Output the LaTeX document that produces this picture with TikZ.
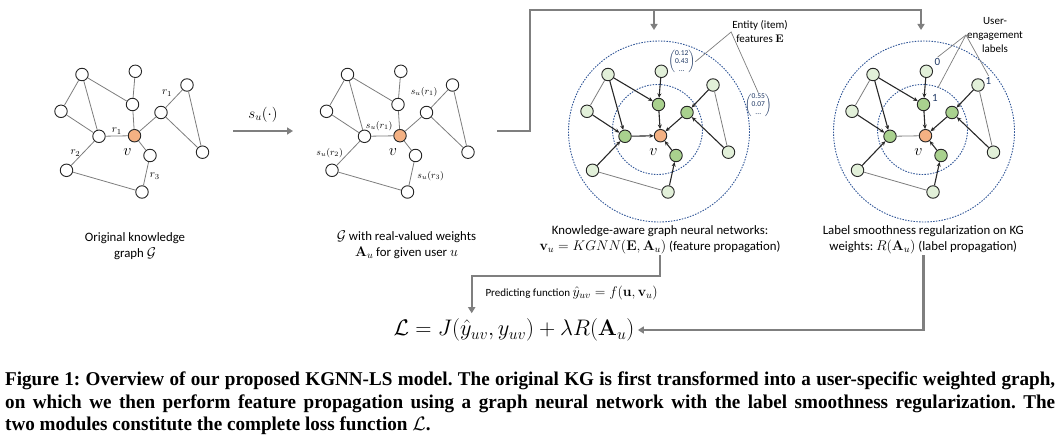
\RequirePackage{fix-cm}
\documentclass[tikz,border=0pt]{standalone}
\usepackage{amsmath}
\usepackage[no-math]{fontspec}
\setmainfont{Carlito}
\newfontfamily\capfont[FakeStretch=0.98]{Liberation Serif}
\usetikzlibrary{arrows.meta,positioning}
\definecolor{flowgray}{RGB}{127,127,127}
\definecolor{edgegray}{RGB}{125,125,125}
\definecolor{msgink}{RGB}{40,40,40}
\definecolor{rootfill}{RGB}{244,177,131}
\definecolor{farfill}{RGB}{226,240,217}
\definecolor{nearfill}{RGB}{169,209,142}
\definecolor{ringblue}{RGB}{47,85,151}
\definecolor{labelnavy}{RGB}{31,56,100}
\tikzset{
  kgnode/.style={circle, draw=black!85, line width=0.9pt, minimum size=12.5pt, inner sep=0pt},
  kgfar/.style={kgnode, fill=white},
  kgnear/.style={kgnode, fill=white},
  kgroot/.style={kgnode, fill=rootfill},
  gnnfar/.style={kgnode, fill=farfill},
  gnnnear/.style={kgnode, fill=nearfill},
  gnnroot/.style={kgnode, fill=rootfill},
  rel/.style={edgegray, line width=0.8pt},
  msg/.style={msgink, line width=1.1pt, -{Stealth[length=4.5pt,width=4pt]}},
  ring/.style={ringblue, line width=0.9pt, dash pattern=on 1.5pt off 1.3pt},
  flowline/.style={flowgray, line width=2.4pt, -{Triangle[length=6pt,width=7pt]}},
  callout/.style={edgegray, line width=0.7pt},
  rlbl/.style={font=\fontsize{11}{11}\selectfont, text=black, inner sep=1pt},
  slbl/.style={font=\fontsize{9.5}{9.5}\selectfont, text=black, inner sep=1pt},
  vlbl/.style={font=\fontsize{16}{16}\selectfont, inner sep=0pt},
  ulbl/.style={font=\fontsize{11}{11}\selectfont, text=labelnavy, inner sep=1pt},
  stagecap/.style={align=center, font=\fontsize{12.8}{16}\selectfont, inner sep=1pt},
  note/.style={align=center, font=\fontsize{11}{14}\selectfont, inner sep=1pt},
  vec/.style={font=\fontsize{7.5}{8}\selectfont, text=labelnavy, inner sep=0pt},
  figcap/.style={anchor=west, inner sep=0pt, font=\capfont\bfseries\fontsize{19.5}{22}\selectfont},
}
\newcommand{\featvec}[2]{$\left(\begin{tabular}{@{}c@{}}#1\\#2\\...\end{tabular}\right)$}
\newcommand{\capmath}[1]{{\fontsize{14}{16}\selectfont$#1$}}

\begin{document}
\frenchspacing
\begin{tikzpicture}[x=1pt,y=-1pt]
  \useasboundingbox (0,0) rectangle (1064,438);
  \foreach \dx in {526,791}{
    \draw[ring] (\dx+131.5,129.5) circle (45);
    \draw[ring] (\dx+133,131.5) circle (90.5);}
  \foreach \n/\x/\y/\k in {a/82/74.5/far, b/135.3/71.3/far, c/187/85/far, d/132.5/104.5/near,
      e/61/111.3/far, f/161/112.5/near, g/99/136.3/near, v/134.5/135.7/root,
      h/202.5/152.2/far, i/150/155.5/near, j/66.5/170.3/far, k/142/192/far}{
    \node[kg\k] (A\n) at (\x,\y) {};
    \node[kg\k] (B\n) at (\x+265.5,\y) {};
    \node[gnn\k] (C\n) at (\x+526,\y) {};
    \node[gnn\k] (D\n) at (\x+791,\y) {};}
  \foreach \p in {A,B}
    \foreach \s/\t in {a/e,a/g,a/d,d/b,d/v,e/g,v/f,f/h,c/h,v/i,j/k}
      \draw[rel] (\p\s) -- (\p\t);
  \draw[rel] (Ag) -- node[rlbl, above] {$r_1$} (Av);
  \draw[rel] (Af) -- node[rlbl, above left=1pt] {$r_1$} (Ac);
  \draw[rel] (Ag) -- node[rlbl, left=1pt] {$r_2$} (Aj);
  \draw[rel] (Ai) -- node[rlbl, right=3pt, pos=0.6] {$r_3$} (Ak);
  \draw[rel] (Bg) -- node[slbl, above=4pt, xshift=-3pt] {$s_u(r_1)$} (Bv);
  \draw[rel] (Bf) -- node[slbl, above left=1pt] {$s_u(r_1)$} (Bc);
  \draw[rel] (Bg) -- node[slbl, left=4pt] {$s_u(r_2)$} (Bj);
  \draw[rel] (Bi) -- node[slbl, right=5pt, pos=0.6] {$s_u(r_3)$} (Bk);
  \foreach \p in {C,D}{
    \foreach \s/\t in {a/e,j/k,c/h}
      \draw[rel] (\p\s) -- (\p\t);
    \foreach \s/\t in {a/g,a/d,b/d,d/v,e/g,f/v,c/f,h/f,i/v,k/i,j/g}
      \draw[msg] (\p\s) -- (\p\t);}
  \draw[msg] (Cg) -- (Cv);
  \draw[rel] (Dg) -- (Dv);
  \foreach \p in {A,B,C,D}
    \node[vlbl] (\p vl) at ([shift={(-7,16)}]\p v) {$v$};

  \node[vec] (featA) at (681.7,61.7) {\featvec{0.12}{0.43}};
  \node[vec] (featB) at (758.3,105) {\featvec{0.55}{0.07}};
  \node[note] (entity) at (760,32) {Entity (item)\\features $\mathbf{E}$};
  \draw[callout] (featA.east) -- (entity.west) -- (featB.north);
  \node[ulbl] (lab0) at (937.5,62) {0};
  \node[ulbl] (lab1) at (935,98) {1};
  \node[ulbl] (lab2) at (988.5,80.5) {1};
  \node[note] (engage) at (995,35) {User-\\engagement\\labels};
  \draw[callout] (lab0.north) -- (engage.west) -- (lab2.north);
  \draw[callout, shorten <=6pt] (lab1.north) -- (engage.west);

  \node[stagecap] (Acap) at (135,246) {Original knowledge\\graph \capmath{\mathcal{G}}};
  \node[stagecap] (Bcap) at (406.5,245) {\capmath{\mathcal{G}} with real-valued weights\\\capmath{\mathbf{A}_u} for given user \capmath{u}};
  \node[stagecap] (Ccap) at (660,240) {Knowledge-aware graph neural networks:\\\capmath{\mathbf{v}_u = KGNN(\mathbf{E},\mathbf{A}_u)} (feature propagation)};
  \node[stagecap] (Dcap) at (923.3,240) {Label smoothness regularization on KG\\weights: \capmath{R(\mathbf{A}_u)} (label propagation)};

  \coordinate (Aout) at (233,131);
  \coordinate (Bin) at (293,131);
  \draw[flowline] (Aout) -- node[above=4pt, text=black, font=\fontsize{15}{15}\selectfont] (su) {$s_u(\cdot)$} (Bin);
  \coordinate (Bout) at (497,131);
  \coordinate (fork) at (530,10);
  \coordinate (gnnin) at (654,30);
  \coordinate (lsin) at (921,30);
  \draw[flowline] (Bout) -| (fork) -| (lsin);
  \draw[flowline] (gnnin |- fork) -- (gnnin);

  \node[font=\fontsize{22.5}{23}\selectfont] (loss) at (514,330) {$\mathcal{L} = J(\hat{y}_{uv}, y_{uv}) + \lambda R(\mathbf{A}_u)$};
  \node[anchor=west, font=\fontsize{11}{13}\selectfont] (pred) at (482,293) {Predicting function {\fontsize{14}{14}\selectfont$\hat{y}_{uv} = f(\mathbf{u}, \mathbf{v}_u)$}};
  \coordinate (pbend) at (471.7,276);
  \draw[flowline, shorten >=2pt] (Ccap.south) |- (pbend) -- (pbend |- loss.north);
  \draw[flowline] (Dcap.south) |- (loss.east);

  \node[figcap] (fig1) at (5,381) {\makebox[1050pt][s]{Figure 1: Overview of our proposed KGNN-LS model. The original KG is first transformed into a user-specific weighted graph,}};
  \node[figcap] (fig2) at (5,404) {\makebox[1050pt][s]{on which we then perform feature propagation using a graph neural network with the label smoothness regularization. The}};
  \node[figcap] (fig3) at (5,426) {two modules constitute the complete loss function $\mathcal{L}$.};
\end{tikzpicture}
\end{document}
